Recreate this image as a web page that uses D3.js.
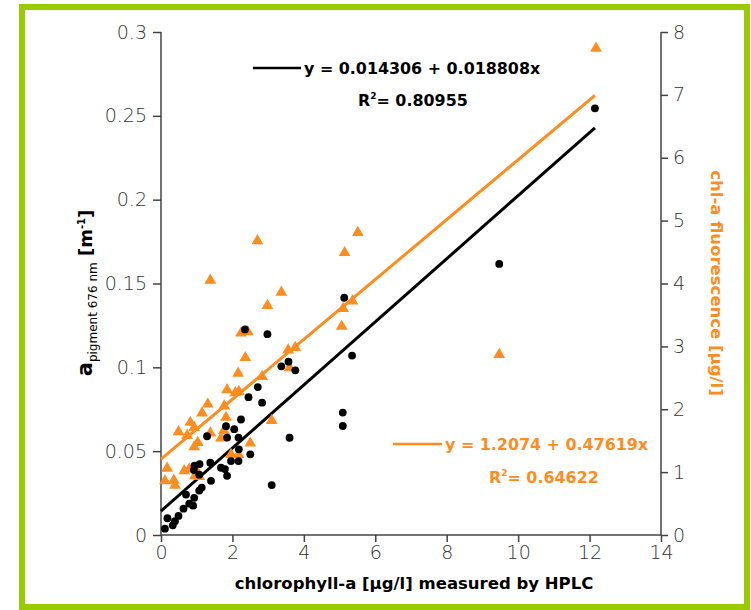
<!DOCTYPE html>
<html>
<head>
<meta charset="utf-8">
<script src="https://cdn.jsdelivr.net/npm/d3@7"></script>
<style>
  body { margin: 0; background: #fff; }
  svg { display: block; }
  .tick text { font-family: "DejaVu Sans", sans-serif; font-weight: 200; font-size: 19px; fill: #333; }
  .axis path, .axis line { stroke: #444; stroke-width: 1.5; }
  .bold { font-family: "DejaVu Sans", sans-serif; font-weight: bold; }
</style>
</head>
<body>
<svg id="chart" width="751" height="610"></svg>
<script>
"use strict";
// HPLC chlorophyll-a vs pigment absorption (left axis)
var hplcAbs = [12.15, 9.47, 5.13, 5.35, 5.09, 5.09, 2.98, 2.35, 3.37, 3.57, 3.76, 3.6, 3.1, 2.71, 2.45, 2.83,
    2.24, 1.82, 2.05, 1.85, 2.17, 1.29, 2.18, 2.5, 1.96, 2.17, 1.68, 1.79, 1.85, 1.38, 1.4, 1.08,
    0.94, 0.92, 1.07, 1.14, 1.07, 0.93, 0.9, 0.79, 0.7, 0.63, 0.49, 0.39, 0.33, 0.18, 0.11];
var absorption = [0.2545, 0.1617, 0.1415, 0.107, 0.073, 0.065, 0.1198, 0.1226, 0.1006, 0.1034, 0.0982, 0.058, 0.0298, 0.0882, 0.0822, 0.0789,
    0.0689, 0.0649, 0.0631, 0.0581, 0.0581, 0.0589, 0.0511, 0.0481, 0.0441, 0.0441, 0.0401, 0.0393, 0.0353, 0.0431, 0.0323, 0.0423,
    0.0413, 0.0387, 0.036, 0.0283, 0.0265, 0.0222, 0.0175, 0.0187, 0.0241, 0.0157, 0.0114, 0.0082, 0.0058, 0.01, 0.0038];
// HPLC chlorophyll-a vs chl-a fluorescence (right axis)
var hplcFluo = [12.18, 9.47, 5.51, 5.14, 2.7, 1.38, 3.37, 2.98, 2.24, 2.43, 5.1, 5.36, 5.06, 2.36, 2.16, 3.56,
    3.76, 3.6, 2.83, 1.85, 2.08, 2.18, 1.31, 1.15, 1.77, 0.82, 0.93, 0.49, 0.73, 1.82, 1.38, 1.76,
    1.68, 1.03, 0.93, 3.1, 2.5, 1.96, 2.17, 0.17, 0.65, 0.79, 1.03, 1.07, 0.95, 0.11, 0.36, 0.39];
var fluorescence = [7.74, 2.87, 4.81, 4.49, 4.68, 4.05, 3.86, 3.65, 3.21, 3.23, 3.6, 3.72, 3.32, 2.82, 2.57, 2.94,
    2.98, 2.66, 2.52, 2.31, 2.26, 2.28, 2.08, 1.94, 2.05, 1.79, 1.71, 1.64, 1.58, 1.87, 1.62, 1.66,
    1.54, 1.47, 1.40, 1.82, 1.46, 1.28, 1.28, 1.06, 1.02, 1.05, 0.99, 0.93, 0.94, 0.86, 0.87, 0.79];
// regression fits: [intercept, slope]
var fitAbs = [0.014306, 0.018808];
var fitFluo = [1.2074, 0.47619];
var xTicks = [0, 2, 4, 6, 8, 10, 12, 14];
var yLeftTicks = [0, 0.05, 0.1, 0.15, 0.2, 0.25, 0.3];
var yRightTicks = [0, 1, 2, 3, 4, 5, 6, 7, 8];

var ORANGE = "#ff8c1e";
var svg = d3.select("#chart");

svg.append("rect").attr("x", 22).attr("y", 7).attr("width", 725).attr("height", 600)
    .attr("fill", "none").attr("stroke", "#99cc00").attr("stroke-width", 6);

var x = d3.scaleLinear().domain([0, 14]).range([161, 661]);
var yL = d3.scaleLinear().domain([0, 0.3]).range([535, 32]);
var yR = d3.scaleLinear().domain([0, 8]).range([535, 32]);

var gx = svg.append("g").attr("class", "axis").attr("transform", "translate(0,535)")
    .call(d3.axisBottom(x).tickValues(xTicks).tickSize(7).tickPadding(4).tickFormat(d3.format("d")));
var gl = svg.append("g").attr("class", "axis").attr("transform", "translate(161,0)")
    .call(d3.axisLeft(yL).tickValues(yLeftTicks).tickSize(8).tickPadding(6).tickFormat(function (d) { return String(+d.toFixed(2)); }));
var gr = svg.append("g").attr("class", "axis").attr("transform", "translate(661,0)")
    .call(d3.axisRight(yR).tickValues(yRightTicks).tickSize(7).tickPadding(5).tickFormat(d3.format("d")));
gx.select(".domain").attr("d", "M161,0H661");
gl.select(".domain").attr("d", "M0,32V535");
gr.select(".domain").attr("d", "M0,32V535");

// trend lines over the data range
var xMax = d3.max(hplcAbs);
var line = d3.line().x(function (d) { return x(d[0]); }).y(function (d) { return d[1]; });
svg.append("path").attr("fill", "none").attr("stroke", ORANGE).attr("stroke-width", 3)
    .attr("d", line([[0, yR(fitFluo[0])], [xMax, yR(fitFluo[0] + fitFluo[1] * xMax)]]));
svg.append("path").attr("fill", "none").attr("stroke", "#000").attr("stroke-width", 3)
    .attr("d", line([[0, yL(fitAbs[0])], [xMax, yL(fitAbs[0] + fitAbs[1] * xMax)]]));

// points
var tri = d3.symbol().type(d3.symbolTriangle).size(60);
svg.append("g").selectAll("path").data(d3.range(hplcFluo.length)).join("path")
    .attr("d", tri)
    .attr("transform", function (i) { return "translate(" + x(hplcFluo[i]) + "," + yR(fluorescence[i]) + ")"; })
    .attr("fill", ORANGE);
svg.append("g").selectAll("circle").data(d3.range(hplcAbs.length)).join("circle")
    .attr("cx", function (i) { return x(hplcAbs[i]); })
    .attr("cy", function (i) { return yL(absorption[i]); })
    .attr("r", 3.9).attr("fill", "#000");

// legends
svg.append("line").attr("x1", 253).attr("x2", 301).attr("y1", 68).attr("y2", 68)
    .attr("stroke", "#000").attr("stroke-width", 2.5);
svg.append("text").attr("class", "bold").attr("x", 304).attr("y", 74).attr("font-size", 15.9)
    .text("y = 0.014306 + 0.018808x");
var r1 = svg.append("text").attr("class", "bold").attr("x", 358).attr("y", 106).attr("font-size", 15.9);
r1.append("tspan").text("R");
r1.append("tspan").attr("font-size", 9).attr("dy", -7).text("2");
r1.append("tspan").attr("dy", 7).text("= 0.80955");

svg.append("line").attr("x1", 393).attr("x2", 442).attr("y1", 444).attr("y2", 444)
    .attr("stroke", ORANGE).attr("stroke-width", 2.5);
svg.append("text").attr("class", "bold").attr("x", 445).attr("y", 450).attr("font-size", 15.9)
    .attr("fill", ORANGE).text("y = 1.2074 + 0.47619x");
var r2 = svg.append("text").attr("class", "bold").attr("x", 489).attr("y", 483).attr("font-size", 15.9)
    .attr("fill", ORANGE);
r2.append("tspan").text("R");
r2.append("tspan").attr("font-size", 9).attr("dy", -7).text("2");
r2.append("tspan").attr("dy", 7).text("= 0.64622");

// axis titles
svg.append("text").attr("class", "bold").attr("x", 414).attr("y", 589).attr("font-size", 16.5)
    .attr("text-anchor", "middle").text("chlorophyll-a [µg/l] measured by HPLC");

var yt = svg.append("text").attr("class", "bold").attr("transform", "translate(92,293) rotate(-90)")
    .attr("text-anchor", "middle").attr("font-size", 18);
yt.append("tspan").attr("font-size", 21).text("a");
yt.append("tspan").attr("font-weight", "normal").attr("font-size", 12).attr("dy", 5).text("pigment 676 nm");
yt.append("tspan").attr("dy", -5).text(" [m");
yt.append("tspan").attr("font-size", 10).attr("dy", -7).text("-1");
yt.append("tspan").attr("dy", 7).text("]");

svg.append("text").attr("class", "bold").attr("transform", "translate(711,283) rotate(90)")
    .attr("text-anchor", "middle").attr("font-size", 16.5).attr("fill", ORANGE)
    .text("chl-a fluorescence [µg/l]");
</script>
</body>
</html>
